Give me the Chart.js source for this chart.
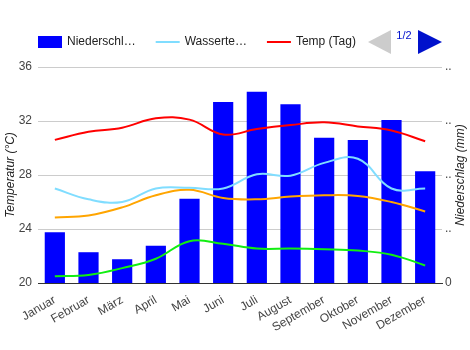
<!DOCTYPE html>
<html>
<head>
<meta charset="utf-8">
<script src="https://cdn.jsdelivr.net/npm/chart.js@4"></script>
<style>
  html, body { margin: 0; padding: 0; background: #fff; }
  #wrap { width: 470px; height: 350px; }
</style>
</head>
<body>
<div id="wrap"><canvas id="climateChart" width="470" height="350"></canvas></div>
<script>
// chart data
const months = ['Januar', 'Februar', 'März', 'April', 'Mai', 'Juni', 'Juli', 'August', 'September', 'Oktober', 'November', 'Dezember'];
const niederschlag = [94, 57, 44, 69, 156, 335, 354, 331, 269, 265, 302, 207];
const wassertemp = [27.0, 26.2, 26.0, 27.0, 27.05, 27.0, 28.05, 27.95, 28.9, 29.2, 27.0, 27.0];
const tempTag = [30.6, 31.2, 31.5, 32.2, 32.1, 31.0, 31.4, 31.7, 31.9, 31.6, 31.3, 30.5];
const tempMittel = [24.85, 25.0, 25.6, 26.5, 26.9, 26.3, 26.2, 26.4, 26.5, 26.45, 26.0, 25.3];
const tempNacht = [20.5, 20.6, 21.1, 21.8, 23.1, 22.9, 22.55, 22.55, 22.5, 22.4, 22.1, 21.3];
const tempTicks = [20, 24, 28, 32, 36];
const rainTitle = 'Niederschlag (mm)';

const FONT = '"Liberation Sans", Arial, sans-serif';

// google-style legend with paging arrows (only page 1 shown)
const pagedLegend = {
    id: 'pagedLegend',
    afterDraw(chart) {
        const ctx = chart.ctx;
        const items = chart.data.datasets.slice(0, 3);
        ctx.save();
        ctx.font = '12px ' + FONT;
        ctx.textBaseline = 'middle';
        let x = 38;
        const y = 42;
        items.forEach(ds => {
            if (ds.type === 'bar') {
                ctx.fillStyle = ds.backgroundColor;
                ctx.fillRect(x, 36, 24, 12);
            } else {
                ctx.strokeStyle = ds.borderColor;
                ctx.lineWidth = 2;
                ctx.beginPath();
                ctx.moveTo(x, y);
                ctx.lineTo(x + 24, y);
                ctx.stroke();
            }
            let text = ds.label;
            if (ctx.measureText(text).width > 70) {
                while (text.length > 1 && ctx.measureText(text + '…').width > 70) {
                    text = text.slice(0, -1);
                }
                text += '…';
            }
            ctx.fillStyle = '#222';
            ctx.textAlign = 'left';
            ctx.fillText(text, x + 29, y);
            x += 29 + ctx.measureText(text).width + 20;
        });

        // previous page arrow (disabled)
        ctx.fillStyle = '#cccccc';
        ctx.beginPath();
        ctx.moveTo(368, 42);
        ctx.lineTo(391, 30);
        ctx.lineTo(391, 54);
        ctx.closePath();
        ctx.fill();

        // next page arrow
        ctx.fillStyle = '#0011cc';
        ctx.beginPath();
        ctx.moveTo(442, 42);
        ctx.lineTo(418, 30);
        ctx.lineTo(418, 54);
        ctx.closePath();
        ctx.fill();

        ctx.font = '11px ' + FONT;
        ctx.textAlign = 'center';
        ctx.fillStyle = '#0011cc';
        ctx.fillText('1/2', 404, 36);

        // right axis title, reading bottom to top like the left one
        const area = chart.chartArea;
        ctx.translate(461, (area.top + area.bottom) / 2);
        ctx.rotate(-Math.PI / 2);
        ctx.font = 'italic 12px ' + FONT;
        ctx.fillStyle = '#222';
        ctx.fillText(rainTitle, 0, 0);
        ctx.restore();
    }
};

const ctx = document.getElementById('climateChart').getContext('2d');

new Chart(ctx, {
    data: {
        labels: months,
        datasets: [
            {
                type: 'bar',
                label: 'Niederschlag',
                data: niederschlag,
                backgroundColor: '#0000ff',
                yAxisID: 'yRain',
                barPercentage: 0.6,
                categoryPercentage: 1.0,
                order: 2
            },
            {
                type: 'line',
                label: 'Wassertemperatur',
                data: wassertemp,
                borderColor: '#80ddff',
                borderWidth: 2,
                pointRadius: 0,
                tension: 0.4,
                yAxisID: 'yTemp',
                order: 1
            },
            {
                type: 'line',
                label: 'Temp (Tag)',
                data: tempTag,
                borderColor: '#ff0000',
                borderWidth: 2,
                pointRadius: 0,
                tension: 0.4,
                yAxisID: 'yTemp',
                order: 1
            },
            {
                type: 'line',
                label: 'Temp (Mittel)',
                data: tempMittel,
                borderColor: '#ffa500',
                borderWidth: 2,
                pointRadius: 0,
                tension: 0.4,
                yAxisID: 'yTemp',
                order: 1
            },
            {
                type: 'line',
                label: 'Temp (Nacht)',
                data: tempNacht,
                borderColor: '#11ee11',
                borderWidth: 2,
                pointRadius: 0,
                tension: 0.4,
                yAxisID: 'yTemp',
                order: 1
            }
        ]
    },
    options: {
        responsive: false,
        animation: false,
        layout: {
            padding: { top: 67, left: 0, right: 0, bottom: 0 }
        },
        plugins: {
            legend: { display: false },
            tooltip: { enabled: false }
        },
        scales: {
            x: {
                grid: { display: false },
                border: { display: true, color: '#333333', width: 1 },
                ticks: {
                    color: '#444',
                    font: { family: FONT, size: 12 },
                    minRotation: 30,
                    maxRotation: 30,
                    padding: 2,
                    autoSkip: false
                },
                afterFit(scale) { scale.height = 67; }
            },
            yTemp: {
                position: 'left',
                min: 20,
                max: 36,
                afterBuildTicks(scale) {
                    scale.ticks = tempTicks.map(v => ({ value: v }));
                },
                grid: { color: '#cccccc', drawTicks: false },
                border: { display: false },
                ticks: {
                    color: '#444',
                    font: { family: FONT, size: 12 },
                    padding: 6
                },
                title: {
                    display: true,
                    text: 'Temperatur (°C)',
                    color: '#222',
                    font: { family: FONT, size: 12, style: 'italic' },
                    padding: { top: 3, bottom: 0 }
                },
                afterFit(scale) { scale.width = 38; }
            },
            yRain: {
                position: 'right',
                min: 0,
                max: 400,
                grid: { display: false, drawTicks: false },
                border: { display: false },
                ticks: {
                    stepSize: 100,
                    color: '#444',
                    font: { family: FONT, size: 12 },
                    padding: 3,
                    callback: value => (value === 0 ? '0' : '..')
                },
                afterFit(scale) { scale.width = 28; }
            }
        }
    },
    plugins: [pagedLegend]
});
</script>
</body>
</html>
